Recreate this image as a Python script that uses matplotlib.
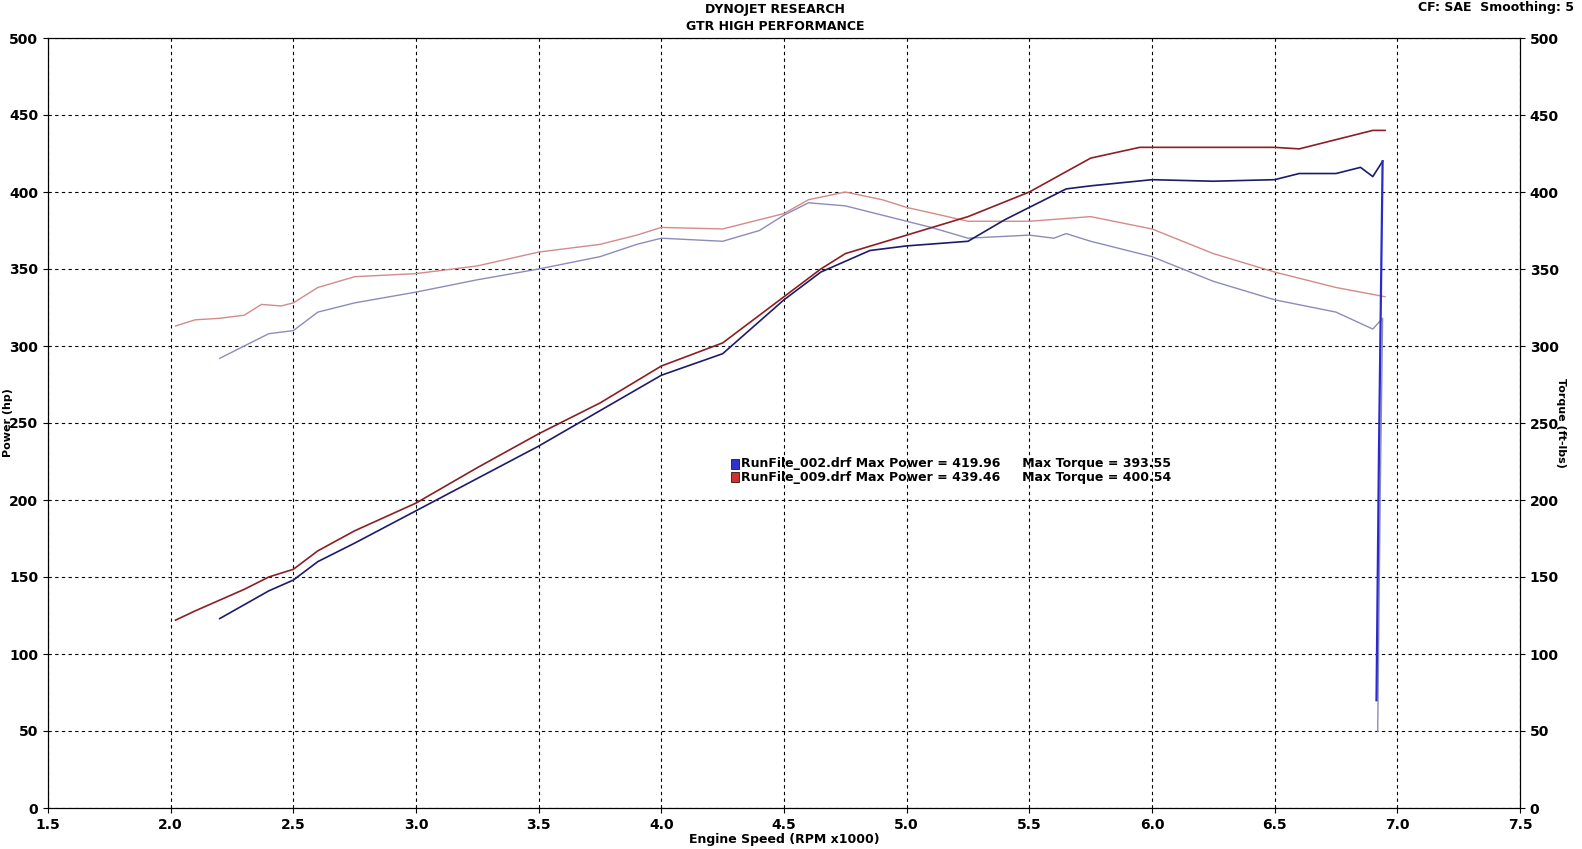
import matplotlib
matplotlib.use("Agg")
import matplotlib.pyplot as plt
from matplotlib.patches import Rectangle

rp_x = [2.02,2.1,2.2,2.3,2.4,2.5,2.6,2.75,3.0,3.25,3.5,3.75,4.0,4.25,4.5,4.65,4.75,5.0,5.25,5.5,5.75,5.95,6.25,6.5,6.6,6.75,6.9,6.95]
rp_y = [122,128,135,142,150,155,167,180,198,221,243,263,287,302,332,350,360,372,384,400,422,429,429,429,428,434,440,440]
bp_x = [2.2,2.3,2.4,2.5,2.6,2.75,3.0,3.25,3.5,3.75,4.0,4.25,4.5,4.65,4.75,4.85,5.0,5.25,5.4,5.5,5.65,5.75,6.0,6.25,6.5,6.6,6.75,6.85,6.9,6.94,6.925,6.915]
bp_y = [123,132,141,148,160,172,193,214,235,258,281,295,330,348,355,362,365,368,382,390,402,404,408,407,408,412,412,416,410,420,230,70]
rt_x = [2.02,2.1,2.2,2.3,2.37,2.45,2.5,2.6,2.75,3.0,3.25,3.5,3.75,3.9,4.0,4.25,4.5,4.6,4.75,4.9,5.0,5.25,5.5,5.75,6.0,6.25,6.5,6.75,6.95]
rt_y = [313,317,318,320,327,326,328,338,345,347,352,361,366,372,377,376,386,395,400,395,390,381,381,384,376,360,348,338,332]
bt_x = [2.2,2.3,2.4,2.5,2.6,2.75,3.0,3.25,3.5,3.75,3.9,4.0,4.25,4.4,4.5,4.6,4.75,5.0,5.1,5.25,5.5,5.6,5.65,5.75,6.0,6.25,6.5,6.75,6.9,6.94,6.93,6.92]
bt_y = [292,300,308,310,322,328,335,343,350,358,366,370,368,375,385,393,391,381,377,370,372,370,373,368,358,342,330,322,311,318,200,50]

fig = plt.figure(figsize=(15.82, 8.49), dpi=100)
ax = fig.add_axes([48/1582, 1-808/849, (1520-48)/1582, (808-38)/849])
ax.plot(rt_x, rt_y, color="#d48a8a", lw=1)
ax.plot(bt_x, bt_y, color="#8c8cbc", lw=1)
ax.plot(rp_x, rp_y, color="#8b1f24", lw=1.2)
ax.plot(bp_x[:-2], bp_y[:-2], color="#1c1c6a", lw=1.2)
ax.plot(bp_x[-3:], bp_y[-3:], color="#2a2ad0", lw=1.6)
ax.set_xlim(1.5, 7.5); ax.set_ylim(0, 500)
ax.set_xticks([1.5+0.5*i for i in range(13)])
ax.set_yticks(range(0, 501, 50))
ax.grid(True, color="black", ls=(0, (3, 3)), lw=0.8)
fs = 10
for lab in ax.get_xticklabels()+ax.get_yticklabels():
    lab.set_fontweight("bold"); lab.set_fontsize(fs)
ax2 = ax.twinx(); ax2.set_ylim(0, 500); ax2.set_yticks(range(0, 501, 50))
for lab in ax2.get_yticklabels():
    lab.set_fontweight("bold"); lab.set_fontsize(fs)
ax.set_xlabel("Engine Speed (RPM x1000)", fontsize=9, fontweight="bold", labelpad=1)
fig.text(8/1582, 1-423/849, "Power (hp)", rotation=90, ha="center", va="center", fontsize=8, fontweight="bold")
fig.text(1561/1582, 1-423/849, "Torque (ft-lbs)", rotation=270, ha="center", va="center", fontsize=8, fontweight="bold")
fig.text(0.49, 1-10/849, "DYNOJET RESEARCH", ha="center", va="center", fontsize=9, fontweight="bold")
fig.text(0.49, 1-26/849, "GTR HIGH PERFORMANCE", ha="center", va="center", fontsize=9, fontweight="bold")
fig.text(0.995, 1-7/849, "CF: SAE  Smoothing: 5", ha="right", va="center", fontsize=9, fontweight="bold")
for i, (c, t) in enumerate([("#3030d0", "RunFile_002.drf Max Power = 419.96     Max Torque = 393.55"),
                            ("#d03030", "RunFile_009.drf Max Power = 439.46     Max Torque = 400.54")]):
    y = 1-(464+13*i)/849
    fig.patches.append(Rectangle((731/1582, y-5/849), 8/1582, 10/849, transform=fig.transFigure, facecolor=c, edgecolor="black", lw=0.5))
    fig.text(741/1582, y, t, ha="left", va="center", fontsize=9, fontweight="bold")
fig.savefig("out.png", dpi=100)
